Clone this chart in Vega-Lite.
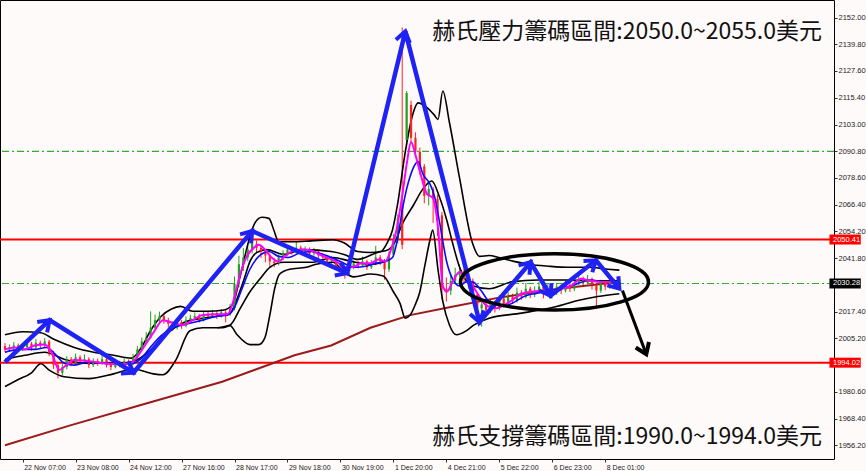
{
  "$schema": "https://vega.github.io/schema/vega-lite/v6.json",
  "width": 834,
  "height": 459,
  "autosize": {"type": "none"},
  "padding": {"left": 0, "top": 0, "right": 32, "bottom": 12},
  "background": "#fffafa",
  "config": {
    "view": {"stroke": "#000000", "strokeWidth": 1, "fill": "#fffafa"},
    "axis": {"title": null, "grid": false, "labelOverlap": false, "labelBound": false, "labelFlush": false},
    "axisY": {"labelOverlap": false, "labelSeparation": 0}
  },
  "datasets": {
    "candles": [
      {"t":0,"o":2001.5,"h":2003.0,"l":1998.8,"c":2000.1},{"t":1,"o":2000.1,"h":2002.4,"l":1999.0,"c":2001.0},{"t":2,"o":2001.0,"h":2003.5,"l":2000.2,"c":2001.9},{"t":3,"o":2001.9,"h":2002.8,"l":1998.9,"c":2000.1},{"t":4,"o":2000.1,"h":2002.2,"l":1999.3,"c":2001.0},
      {"t":5,"o":2001.0,"h":2004.6,"l":2000.4,"c":2002.8},{"t":6,"o":2002.8,"h":2003.6,"l":1999.6,"c":2001.0},{"t":7,"o":2001.0,"h":2004.9,"l":2000.3,"c":2003.2},{"t":8,"o":2003.2,"h":2004.1,"l":2000.5,"c":2001.9},{"t":9,"o":2001.9,"h":2005.3,"l":2001.0,"c":2003.7},
      {"t":10,"o":2003.7,"h":2004.5,"l":1997.0,"c":1998.3},{"t":11,"o":1998.3,"h":1999.4,"l":1991.2,"c":1992.9},{"t":12,"o":1992.9,"h":1994.0,"l":1986.8,"c":1989.4},{"t":13,"o":1989.4,"h":1993.5,"l":1988.2,"c":1992.0},{"t":14,"o":1992.0,"h":1997.0,"l":1991.0,"c":1995.6},
      {"t":15,"o":1995.6,"h":1996.6,"l":1992.4,"c":1993.8},{"t":16,"o":1993.8,"h":1998.2,"l":1993.0,"c":1996.5},{"t":17,"o":1996.5,"h":1997.4,"l":1993.6,"c":1994.7},{"t":18,"o":1994.7,"h":1997.8,"l":1994.0,"c":1995.6},{"t":19,"o":1995.6,"h":1996.5,"l":1991.5,"c":1992.9},
      {"t":20,"o":1992.9,"h":1996.0,"l":1992.0,"c":1994.7},{"t":21,"o":1994.7,"h":1995.9,"l":1992.6,"c":1993.8},{"t":22,"o":1993.8,"h":1997.5,"l":1993.0,"c":1995.6},{"t":23,"o":1995.6,"h":1996.4,"l":1991.8,"c":1992.9},{"t":24,"o":1992.9,"h":1993.9,"l":1990.6,"c":1992.0},
      {"t":25,"o":1992.0,"h":1995.2,"l":1991.4,"c":1993.8},{"t":26,"o":1993.8,"h":1994.9,"l":1991.9,"c":1992.9},{"t":27,"o":1992.9,"h":1996.0,"l":1992.2,"c":1994.7},{"t":28,"o":1994.7,"h":1995.5,"l":1992.3,"c":1993.4},{"t":29,"o":1993.4,"h":1998.0,"l":1992.8,"c":1996.5},
      {"t":30,"o":1996.5,"h":2001.6,"l":1995.8,"c":2000.1},{"t":31,"o":2000.1,"h":2005.5,"l":1999.4,"c":2003.7},{"t":32,"o":2003.7,"h":2008.0,"l":2002.6,"c":2005.5},{"t":33,"o":2005.5,"h":2017.5,"l":2004.8,"c":2010.0},{"t":34,"o":2010.0,"h":2016.0,"l":2009.0,"c":2013.5},
      {"t":35,"o":2013.5,"h":2017.4,"l":2012.0,"c":2015.3},{"t":36,"o":2015.3,"h":2016.2,"l":2011.8,"c":2013.5},{"t":37,"o":2013.5,"h":2014.6,"l":2010.2,"c":2011.8},{"t":38,"o":2011.8,"h":2012.9,"l":2008.6,"c":2010.0},{"t":39,"o":2010.0,"h":2014.0,"l":2009.2,"c":2012.6},
      {"t":40,"o":2012.6,"h":2013.5,"l":2009.5,"c":2010.9},{"t":41,"o":2010.9,"h":2015.2,"l":2010.2,"c":2013.5},{"t":42,"o":2013.5,"h":2016.0,"l":2012.5,"c":2014.4},{"t":43,"o":2014.4,"h":2017.0,"l":2013.6,"c":2015.3},{"t":44,"o":2015.3,"h":2016.4,"l":2012.4,"c":2013.5},
      {"t":45,"o":2013.5,"h":2017.6,"l":2012.9,"c":2016.2},{"t":46,"o":2016.2,"h":2017.4,"l":2014.2,"c":2015.3},{"t":47,"o":2015.3,"h":2018.2,"l":2014.5,"c":2016.7},{"t":48,"o":2016.7,"h":2017.6,"l":2014.0,"c":2015.3},{"t":49,"o":2015.3,"h":2018.6,"l":2014.6,"c":2017.1},
      {"t":50,"o":2017.1,"h":2018.0,"l":2012.5,"c":2016.2},{"t":51,"o":2016.2,"h":2021.0,"l":2015.5,"c":2018.9},{"t":52,"o":2018.9,"h":2033.5,"l":2018.0,"c":2030.1},{"t":53,"o":2030.1,"h":2043.0,"l":2028.5,"c":2039.1},{"t":54,"o":2039.1,"h":2046.5,"l":2036.0,"c":2042.2},
      {"t":55,"o":2042.2,"h":2048.5,"l":2040.5,"c":2045.8},{"t":56,"o":2045.8,"h":2051.0,"l":2044.0,"c":2048.5},{"t":57,"o":2048.5,"h":2050.0,"l":2044.5,"c":2046.7},{"t":58,"o":2046.7,"h":2047.8,"l":2042.0,"c":2044.9},{"t":59,"o":2044.9,"h":2046.0,"l":2040.0,"c":2043.1},
      {"t":60,"o":2043.1,"h":2044.0,"l":2037.5,"c":2040.4},{"t":61,"o":2040.4,"h":2042.0,"l":2037.8,"c":2039.5},{"t":62,"o":2039.5,"h":2043.6,"l":2038.6,"c":2042.2},{"t":63,"o":2042.2,"h":2045.5,"l":2041.0,"c":2044.0},{"t":64,"o":2044.0,"h":2047.4,"l":2043.0,"c":2045.8},
      {"t":65,"o":2045.8,"h":2047.0,"l":2043.5,"c":2044.9},{"t":66,"o":2044.9,"h":2049.5,"l":2044.0,"c":2046.7},{"t":67,"o":2046.7,"h":2047.6,"l":2043.6,"c":2044.9},{"t":68,"o":2044.9,"h":2047.2,"l":2043.8,"c":2045.8},{"t":69,"o":2045.8,"h":2046.8,"l":2042.6,"c":2044.0},
      {"t":70,"o":2044.0,"h":2046.6,"l":2043.0,"c":2044.9},{"t":71,"o":2044.9,"h":2045.8,"l":2041.6,"c":2043.1},{"t":72,"o":2043.1,"h":2044.2,"l":2040.8,"c":2042.2},{"t":73,"o":2042.2,"h":2043.0,"l":2039.0,"c":2040.4},{"t":74,"o":2040.4,"h":2042.8,"l":2039.4,"c":2041.3},
      {"t":75,"o":2041.3,"h":2042.0,"l":2037.0,"c":2038.6},{"t":76,"o":2038.6,"h":2039.6,"l":2035.2,"c":2036.8},{"t":77,"o":2036.8,"h":2038.0,"l":2032.5,"c":2035.9},{"t":78,"o":2035.9,"h":2039.0,"l":2034.8,"c":2037.7},{"t":79,"o":2037.7,"h":2040.8,"l":2036.8,"c":2039.5},
      {"t":80,"o":2039.5,"h":2040.6,"l":2037.2,"c":2038.6},{"t":81,"o":2038.6,"h":2042.6,"l":2037.9,"c":2040.4},{"t":82,"o":2040.4,"h":2041.2,"l":2036.5,"c":2037.7},{"t":83,"o":2037.7,"h":2041.0,"l":2036.9,"c":2039.5},{"t":84,"o":2039.5,"h":2047.5,"l":2038.6,"c":2042.2},
      {"t":85,"o":2042.2,"h":2043.3,"l":2038.8,"c":2040.4},{"t":86,"o":2040.4,"h":2041.5,"l":2032.0,"c":2036.8},{"t":87,"o":2036.8,"h":2045.0,"l":2035.6,"c":2043.6},{"t":88,"o":2043.6,"h":2053.0,"l":2042.5,"c":2050.3},{"t":89,"o":2050.3,"h":2062.0,"l":2048.6,"c":2060.1},
      {"t":90,"o":2065.9,"h":2147.5,"l":2046.0,"c":2048.0},{"t":91,"o":2096.0,"h":2118.4,"l":2093.0,"c":2117.5},{"t":92,"o":2112.0,"h":2114.0,"l":2094.0,"c":2097.0},{"t":93,"o":2097.0,"h":2099.5,"l":2088.0,"c":2090.6},{"t":94,"o":2090.6,"h":2092.5,"l":2080.0,"c":2083.9},
      {"t":95,"o":2083.9,"h":2085.0,"l":2067.0,"c":2070.4},{"t":96,"o":2070.4,"h":2076.0,"l":2066.0,"c":2073.6},{"t":97,"o":2073.6,"h":2074.5,"l":2058.0,"c":2069.1},{"t":98,"o":2069.1,"h":2071.0,"l":2052.0,"c":2061.5},{"t":99,"o":2061.5,"h":2063.0,"l":2023.0,"c":2027.9},
      {"t":100,"o":2027.9,"h":2033.0,"l":2022.0,"c":2027.0},{"t":101,"o":2027.0,"h":2034.5,"l":2025.0,"c":2031.5},{"t":102,"o":2031.5,"h":2037.5,"l":2030.0,"c":2034.2},{"t":103,"o":2034.2,"h":2039.0,"l":2033.0,"c":2035.9},{"t":104,"o":2035.9,"h":2037.0,"l":2030.5,"c":2032.4},
      {"t":105,"o":2032.4,"h":2034.0,"l":2028.0,"c":2031.5},{"t":106,"o":2031.5,"h":2032.6,"l":2022.5,"c":2025.2},{"t":107,"o":2025.2,"h":2026.0,"l":2016.5,"c":2018.9},{"t":108,"o":2018.9,"h":2022.5,"l":2010.5,"c":2020.7},{"t":109,"o":2020.7,"h":2022.0,"l":2015.0,"c":2018.0},
      {"t":110,"o":2018.0,"h":2023.0,"l":2016.8,"c":2021.2},{"t":111,"o":2021.2,"h":2022.4,"l":2017.0,"c":2018.9},{"t":112,"o":2018.9,"h":2025.0,"l":2018.0,"c":2023.4},{"t":113,"o":2023.4,"h":2024.6,"l":2019.2,"c":2020.7},{"t":114,"o":2020.7,"h":2026.4,"l":2019.8,"c":2024.3},
      {"t":115,"o":2024.3,"h":2025.6,"l":2021.0,"c":2022.5},{"t":116,"o":2022.5,"h":2028.4,"l":2021.6,"c":2026.1},{"t":117,"o":2026.1,"h":2027.2,"l":2022.8,"c":2024.3},{"t":118,"o":2024.3,"h":2030.5,"l":2023.5,"c":2027.9},{"t":119,"o":2027.9,"h":2028.8,"l":2023.6,"c":2025.2},
      {"t":120,"o":2025.2,"h":2029.0,"l":2024.0,"c":2027.0},{"t":121,"o":2027.0,"h":2031.0,"l":2026.0,"c":2028.8},{"t":122,"o":2028.8,"h":2029.6,"l":2023.5,"c":2025.2},{"t":123,"o":2025.2,"h":2030.0,"l":2024.4,"c":2027.9},{"t":124,"o":2027.9,"h":2029.0,"l":2024.5,"c":2026.1},
      {"t":125,"o":2026.1,"h":2030.6,"l":2025.0,"c":2028.8},{"t":126,"o":2028.8,"h":2029.8,"l":2025.4,"c":2027.0},{"t":127,"o":2027.0,"h":2031.6,"l":2026.2,"c":2029.7},{"t":128,"o":2029.7,"h":2030.6,"l":2026.4,"c":2027.9},{"t":129,"o":2027.9,"h":2032.6,"l":2026.8,"c":2030.6},
      {"t":130,"o":2030.6,"h":2034.5,"l":2029.6,"c":2032.4},{"t":131,"o":2032.4,"h":2033.4,"l":2029.0,"c":2030.6},{"t":132,"o":2030.6,"h":2034.2,"l":2029.8,"c":2032.4},{"t":133,"o":2032.4,"h":2033.0,"l":2027.5,"c":2029.7},{"t":134,"o":2029.7,"h":2030.5,"l":2019.8,"c":2027.0},
      {"t":135,"o":2027.0,"h":2032.0,"l":2026.0,"c":2030.6},{"t":136,"o":2030.6,"h":2031.6,"l":2027.2,"c":2028.8},{"t":137,"o":2028.8,"h":2033.0,"l":2027.9,"c":2031.5},{"t":138,"o":2031.5,"h":2032.4,"l":2028.4,"c":2029.7},{"t":139,"o":2029.7,"h":2031.8,"l":2029.0,"c":2030.6}
    ],
    "lines": [
      {"s":"ma200","t":0,"p":1956.2},{"s":"ma200","t":14.6,"p":1965.2},{"s":"ma200","t":29.8,"p":1974.1},{"s":"ma200","t":49.2,"p":1985.3},{"s":"ma200","t":65.6,"p":1997.4},{"s":"ma200","t":73.9,"p":2001.9},{"s":"ma200","t":82.8,"p":2010.0},{"s":"ma200","t":91.8,"p":2015.8},{"s":"ma200","t":100.7,"p":2019.4},{"s":"ma200","t":111.9,"p":2023.8},{"s":"ma200","t":125.4,"p":2027.9},{"s":"ma200","t":139.2,"p":2031.0},

      {"s":"mag","t":0,"p":2000.1},{"s":"mag","t":2.2,"p":2001.0},{"s":"mag","t":4.5,"p":2000.1},{"s":"mag","t":6.7,"p":2001.9},{"s":"mag","t":9.0,"p":2002.3},{"s":"mag","t":10.5,"p":1998.8},{"s":"mag","t":12.3,"p":1990.7},{"s":"mag","t":13.9,"p":1992.9},{"s":"mag","t":15.7,"p":1995.2},{"s":"mag","t":19.0,"p":1994.7},{"s":"mag","t":22.4,"p":1993.8},{"s":"mag","t":25.7,"p":1993.4},{"s":"mag","t":28.4,"p":1993.8},{"s":"mag","t":30.2,"p":1997.4},{"s":"mag","t":31.8,"p":2002.3},{"s":"mag","t":33.6,"p":2007.7},{"s":"mag","t":35.8,"p":2013.5},{"s":"mag","t":38.1,"p":2012.2},{"s":"mag","t":40.3,"p":2011.3},{"s":"mag","t":42.5,"p":2013.5},{"s":"mag","t":44.8,"p":2015.8},{"s":"mag","t":48.1,"p":2016.2},{"s":"mag","t":50.4,"p":2016.2},{"s":"mag","t":51.9,"p":2023.4},{"s":"mag","t":53.3,"p":2034.6},{"s":"mag","t":54.8,"p":2042.7},{"s":"mag","t":56.4,"p":2046.7},{"s":"mag","t":57.5,"p":2048.0},{"s":"mag","t":58.9,"p":2045.8},{"s":"mag","t":60.4,"p":2042.2},{"s":"mag","t":62.0,"p":2040.4},{"s":"mag","t":63.4,"p":2042.7},{"s":"mag","t":64.9,"p":2044.9},{"s":"mag","t":67.2,"p":2045.8},{"s":"mag","t":69.4,"p":2045.4},{"s":"mag","t":71.2,"p":2043.6},{"s":"mag","t":72.8,"p":2042.2},{"s":"mag","t":75.0,"p":2040.4},{"s":"mag","t":77.2,"p":2037.7},{"s":"mag","t":78.8,"p":2037.7},{"s":"mag","t":80.6,"p":2039.5},{"s":"mag","t":82.8,"p":2039.5},{"s":"mag","t":84.6,"p":2041.3},{"s":"mag","t":86.2,"p":2040.4},{"s":"mag","t":87.3,"p":2044.9},{"s":"mag","t":88.7,"p":2054.8},{"s":"mag","t":90.0,"p":2070.4},{"s":"mag","t":91.1,"p":2086.1},{"s":"mag","t":92.0,"p":2095.1},{"s":"mag","t":93.1,"p":2088.4},{"s":"mag","t":94.0,"p":2081.6},{"s":"mag","t":95.6,"p":2071.3},{"s":"mag","t":96.9,"p":2069.5},{"s":"mag","t":98.1,"p":2056.1},{"s":"mag","t":99.2,"p":2029.2},{"s":"mag","t":100.1,"p":2026.5},{"s":"mag","t":101.4,"p":2031.0},{"s":"mag","t":103.0,"p":2035.5},{"s":"mag","t":104.5,"p":2033.7},{"s":"mag","t":106.8,"p":2026.5},{"s":"mag","t":109.0,"p":2020.3},{"s":"mag","t":111.3,"p":2018.9},{"s":"mag","t":112.6,"p":2019.8},{"s":"mag","t":114.8,"p":2022.5},{"s":"mag","t":117.1,"p":2025.6},{"s":"mag","t":119.3,"p":2026.5},{"s":"mag","t":121.6,"p":2027.0},{"s":"mag","t":123.8,"p":2026.5},{"s":"mag","t":126.0,"p":2027.9},{"s":"mag","t":128.3,"p":2029.2},{"s":"mag","t":130.5,"p":2032.4},{"s":"mag","t":132.8,"p":2031.5},{"s":"mag","t":135.0,"p":2031.0},{"s":"mag","t":137.2,"p":2031.0},{"s":"mag","t":139.2,"p":2031.0},

      {"s":"blu","t":0,"p":1998.8},{"s":"blu","t":3.4,"p":2000.1},{"s":"blu","t":6.7,"p":2000.1},{"s":"blu","t":9.4,"p":2001.0},{"s":"blu","t":11.2,"p":1998.3},{"s":"blu","t":13.4,"p":1993.8},{"s":"blu","t":15.7,"p":1992.9},{"s":"blu","t":19.0,"p":1994.3},{"s":"blu","t":22.4,"p":1993.8},{"s":"blu","t":25.7,"p":1993.4},{"s":"blu","t":28.4,"p":1993.4},{"s":"blu","t":30.7,"p":1995.6},{"s":"blu","t":32.9,"p":2001.0},{"s":"blu","t":35.4,"p":2006.4},{"s":"blu","t":38.1,"p":2010.0},{"s":"blu","t":41.4,"p":2011.8},{"s":"blu","t":44.8,"p":2013.5},{"s":"blu","t":48.1,"p":2015.3},{"s":"blu","t":50.4,"p":2015.8},{"s":"blu","t":51.9,"p":2018.9},{"s":"blu","t":53.7,"p":2027.9},{"s":"blu","t":55.5,"p":2036.8},{"s":"blu","t":57.5,"p":2042.7},{"s":"blu","t":59.8,"p":2044.9},{"s":"blu","t":62.0,"p":2042.7},{"s":"blu","t":64.2,"p":2042.2},{"s":"blu","t":66.5,"p":2044.0},{"s":"blu","t":69.4,"p":2044.9},{"s":"blu","t":72.1,"p":2043.6},{"s":"blu","t":75.0,"p":2041.3},{"s":"blu","t":77.2,"p":2039.1},{"s":"blu","t":79.5,"p":2037.7},{"s":"blu","t":81.7,"p":2038.2},{"s":"blu","t":83.9,"p":2039.5},{"s":"blu","t":86.2,"p":2040.4},{"s":"blu","t":87.8,"p":2042.2},{"s":"blu","t":88.9,"p":2050.3},{"s":"blu","t":90.2,"p":2066.0},{"s":"blu","t":91.8,"p":2079.4},{"s":"blu","t":93.6,"p":2086.1},{"s":"blu","t":94.7,"p":2080.3},{"s":"blu","t":96.3,"p":2075.8},{"s":"blu","t":97.4,"p":2069.5},{"s":"blu","t":98.5,"p":2057.9},{"s":"blu","t":100.1,"p":2040.0},{"s":"blu","t":101.4,"p":2032.4},{"s":"blu","t":103.0,"p":2029.2},{"s":"blu","t":104.5,"p":2031.0},{"s":"blu","t":105.9,"p":2031.0},{"s":"blu","t":107.9,"p":2027.0},{"s":"blu","t":109.7,"p":2022.1},{"s":"blu","t":113.5,"p":2020.3},{"s":"blu","t":118.0,"p":2024.7},{"s":"blu","t":122.5,"p":2026.5},{"s":"blu","t":128.3,"p":2029.2},{"s":"blu","t":132.8,"p":2031.9},{"s":"blu","t":135.9,"p":2031.0},{"s":"blu","t":139.2,"p":2031.0},

      {"s":"U","t":0,"p":2006.8},{"s":"U","t":4.0,"p":2008.2},{"s":"U","t":8.1,"p":2007.7},{"s":"U","t":11.2,"p":2004.6},{"s":"U","t":15.7,"p":2001.0},{"s":"U","t":20.1,"p":1998.8},{"s":"U","t":24.6,"p":1997.4},{"s":"U","t":28.7,"p":1996.1},{"s":"U","t":30.9,"p":2001.0},{"s":"U","t":33.1,"p":2009.1},{"s":"U","t":35.4,"p":2015.3},{"s":"U","t":37.6,"p":2018.5},{"s":"U","t":39.8,"p":2019.8},{"s":"U","t":42.5,"p":2017.6},{"s":"U","t":45.9,"p":2017.6},{"s":"U","t":49.3,"p":2018.0},{"s":"U","t":51.5,"p":2020.3},{"s":"U","t":53.3,"p":2033.7},{"s":"U","t":55.3,"p":2050.3},{"s":"U","t":56.6,"p":2057.9},{"s":"U","t":58.2,"p":2060.6},{"s":"U","t":59.8,"p":2060.1},{"s":"U","t":60.9,"p":2054.8},{"s":"U","t":62.0,"p":2049.4},{"s":"U","t":64.9,"p":2049.4},{"s":"U","t":69.4,"p":2049.8},{"s":"U","t":74.3,"p":2050.3},{"s":"U","t":76.8,"p":2048.9},{"s":"U","t":79.9,"p":2044.9},{"s":"U","t":82.8,"p":2044.5},{"s":"U","t":85.1,"p":2044.9},{"s":"U","t":86.6,"p":2048.9},{"s":"U","t":87.8,"p":2054.8},{"s":"U","t":88.9,"p":2066.0},{"s":"U","t":90.7,"p":2090.6},{"s":"U","t":92.2,"p":2106.3},{"s":"U","t":93.6,"p":2113.0},{"s":"U","t":95.4,"p":2111.2},{"s":"U","t":97.2,"p":2107.6},{"s":"U","t":98.1,"p":2105.4},{"s":"U","t":99.2,"p":2118.4},{"s":"U","t":100.7,"p":2104.0},{"s":"U","t":103.0,"p":2078.5},{"s":"U","t":105.9,"p":2048.9},{"s":"U","t":107.5,"p":2042.7},{"s":"U","t":109.7,"p":2043.1},{"s":"U","t":111.9,"p":2042.2},{"s":"U","t":115.3,"p":2040.4},{"s":"U","t":118.6,"p":2039.1},{"s":"U","t":123.1,"p":2038.2},{"s":"U","t":127.6,"p":2037.7},{"s":"U","t":132.1,"p":2037.7},{"s":"U","t":136.6,"p":2036.8},{"s":"U","t":139.2,"p":2036.4},

      {"s":"L","t":0,"p":1983.1},{"s":"L","t":2.9,"p":1986.2},{"s":"L","t":6.0,"p":1989.4},{"s":"L","t":8.1,"p":1993.5},{"s":"L","t":10.1,"p":1990.5},{"s":"L","t":13.4,"p":1987.6},{"s":"L","t":19.0,"p":1986.7},{"s":"L","t":24.6,"p":1988.9},{"s":"L","t":29.1,"p":1991.1},{"s":"L","t":33.6,"p":1988.9},{"s":"L","t":35.8,"p":1988.5},{"s":"L","t":38.7,"p":1995.2},{"s":"L","t":41.9,"p":2008.6},{"s":"L","t":44.8,"p":2010.0},{"s":"L","t":49.3,"p":2010.0},{"s":"L","t":51.0,"p":2010.9},{"s":"L","t":52.6,"p":2006.8},{"s":"L","t":55.5,"p":2002.3},{"s":"L","t":57.5,"p":2002.3},{"s":"L","t":58.9,"p":2005.5},{"s":"L","t":60.0,"p":2015.8},{"s":"L","t":61.1,"p":2027.9},{"s":"L","t":62.2,"p":2034.6},{"s":"L","t":64.5,"p":2036.8},{"s":"L","t":68.3,"p":2037.7},{"s":"L","t":70.5,"p":2039.1},{"s":"L","t":74.3,"p":2040.0},{"s":"L","t":76.8,"p":2035.5},{"s":"L","t":79.0,"p":2033.3},{"s":"L","t":82.8,"p":2034.6},{"s":"L","t":85.7,"p":2033.7},{"s":"L","t":88.0,"p":2026.5},{"s":"L","t":89.5,"p":2021.2},{"s":"L","t":90.7,"p":2014.4},{"s":"L","t":91.8,"p":2015.8},{"s":"L","t":92.9,"p":2020.3},{"s":"L","t":94.0,"p":2026.5},{"s":"L","t":95.1,"p":2038.2},{"s":"L","t":96.3,"p":2050.3},{"s":"L","t":96.9,"p":2054.8},{"s":"L","t":98.1,"p":2036.8},{"s":"L","t":99.2,"p":2022.1},{"s":"L","t":100.7,"p":2011.3},{"s":"L","t":102.3,"p":2006.8},{"s":"L","t":104.5,"p":2008.6},{"s":"L","t":106.3,"p":2011.3},{"s":"L","t":109.7,"p":2014.4},{"s":"L","t":117.1,"p":2016.7},{"s":"L","t":124.7,"p":2019.6},{"s":"L","t":129.8,"p":2022.5},{"s":"L","t":134.3,"p":2024.3},{"s":"L","t":139.2,"p":2025.6},

      {"s":"M","t":0,"p":1995.6},{"s":"M","t":4.5,"p":1997.4},{"s":"M","t":9.0,"p":1998.8},{"s":"M","t":13.4,"p":1995.6},{"s":"M","t":17.9,"p":1993.8},{"s":"M","t":22.4,"p":1993.8},{"s":"M","t":26.9,"p":1993.8},{"s":"M","t":30.2,"p":1995.6},{"s":"M","t":33.6,"p":2001.0},{"s":"M","t":36.9,"p":2007.7},{"s":"M","t":40.3,"p":2012.2},{"s":"M","t":44.8,"p":2014.4},{"s":"M","t":48.1,"p":2015.3},{"s":"M","t":51.0,"p":2016.7},{"s":"M","t":52.6,"p":2023.4},{"s":"M","t":54.2,"p":2032.4},{"s":"M","t":55.5,"p":2040.4},{"s":"M","t":57.1,"p":2044.5},{"s":"M","t":59.3,"p":2045.8},{"s":"M","t":63.1,"p":2043.6},{"s":"M","t":67.6,"p":2045.8},{"s":"M","t":73.9,"p":2044.9},{"s":"M","t":76.8,"p":2043.6},{"s":"M","t":79.9,"p":2041.3},{"s":"M","t":84.4,"p":2044.5},{"s":"M","t":86.9,"p":2045.8},{"s":"M","t":88.0,"p":2048.0},{"s":"M","t":90.2,"p":2058.3},{"s":"M","t":92.5,"p":2066.0},{"s":"M","t":94.7,"p":2073.6},{"s":"M","t":96.7,"p":2077.2},{"s":"M","t":98.5,"p":2069.5},{"s":"M","t":100.1,"p":2059.2},{"s":"M","t":101.4,"p":2048.9},{"s":"M","t":103.0,"p":2037.7},{"s":"M","t":105.9,"p":2029.2},{"s":"M","t":109.7,"p":2027.9},{"s":"M","t":114.8,"p":2031.0},{"s":"M","t":120.9,"p":2031.9},{"s":"M","t":127.6,"p":2031.9},{"s":"M","t":134.3,"p":2031.5},{"s":"M","t":139.2,"p":2031.5},

      {"s":"S","t":48.1,"p":2010.0},{"s":"S","t":51.0,"p":2011.3},{"s":"S","t":53.3,"p":2018.9},{"s":"S","t":55.5,"p":2026.5},{"s":"S","t":57.8,"p":2032.4},{"s":"S","t":60.0,"p":2037.7},{"s":"S","t":63.1,"p":2040.0},{"s":"S","t":69.8,"p":2040.0},{"s":"S","t":74.3,"p":2042.2},{"s":"S","t":78.4,"p":2040.4},{"s":"S","t":82.8,"p":2039.1},{"s":"S","t":86.2,"p":2040.4}
    ],
    "zig": [
      {"t":0,"p":1994.3},{"t":10.1,"p":2013.5},{"t":29.1,"p":1989.4},{"t":56.0,"p":2054.3},{"t":77.5,"p":2035.0},{"t":90.7,"p":2145.7},{"t":107.5,"p":2012.6},{"t":119.1,"p":2040.0},{"t":123.6,"p":2024.7},{"t":133.9,"p":2040.9},{"t":139.2,"p":2027.9}
    ],
    "heads": [
      {"g":"blue","t":10.1,"p":2013.5,"a":-43.7},{"g":"blue","t":29.1,"p":1989.4,"a":32.0},{"g":"blue","t":56.0,"p":2054.3,"a":-50.2},{"g":"blue","t":77.5,"p":2035.0,"a":24.4},{"g":"blue","t":90.7,"p":2145.7,"a":-76.3},{"g":"blue","t":107.5,"p":2012.6,"a":75.8},{"g":"blue","t":119.1,"p":2040.0,"a":-49.6},{"g":"blue","t":123.6,"p":2024.7,"a":59.5},{"g":"blue","t":133.9,"p":2040.9,"a":-38.0},{"g":"blue","t":139.2,"p":2027.9,"a":50.4},{"g":"black","t":145.3,"p":1997.9,"a":67.3}
    ]
  },
  "layer": [
    {
      "data": {"name": "candles"},
      "mark": {"type": "rule", "strokeWidth": 1},
      "encoding": {
        "x": {"field": "t", "type": "quantitative", "title": null, "scale": {"domain": [0, 186.7], "nice": false, "zero": false},
          "axis": {"orient": "bottom", "values": [4, 16, 28, 40, 52, 64, 76, 88, 100, 112, 124, 136],
            "labelExpr": "['22 Nov 07:00','23 Nov 08:00','24 Nov 12:00','27 Nov 16:00','28 Nov 17:00','29 Nov 18:00','30 Nov 19:00','1 Dec 20:00','4 Dec 21:00','5 Dec 22:00','6 Dec 23:00','8 Dec 01:00'][round((datum.value - 4) / 12)]",
            "grid": false, "domain": false, "ticks": true, "tickSize": 3, "tickColor": "#333333", "labels": true, "labelAlign": "left", "labelBaseline": "top", "labelPadding": 1, "labelOffset": 1, "labelFont": "Liberation Sans", "labelFontSize": 7, "labelColor": "#222222", "labelFlush": false, "labelOverlap": false}},
        "y": {"field": "l", "type": "quantitative", "title": null, "scale": {"domain": [1952.2, 2157.8], "nice": false, "zero": false},
          "axis": {"orient": "right", "values": [2152, 2139.8, 2127.6, 2115.4, 2103, 2090.8, 2078.6, 2066.4, 2054.2, 2041.8, 2017.4, 2005.2, 1980.6, 1968.4, 1956.2],
            "format": ".2f", "grid": false, "domain": false, "ticks": true, "tickSize": 3, "tickColor": "#333333", "labels": true, "labelPadding": 1, "labelFont": "Liberation Sans", "labelFontSize": 7.5, "labelColor": "#222222", "labelFlush": false, "labelOverlap": false, "labelSeparation": 0, "tickCount": 20}},
        "y2": {"field": "h"},
        "color": {"condition": {"test": "datum.c >= datum.o", "value": "#1fa01f"}, "value": "#ff2020"}
      }
    },
    {
      "data": {"values": [{"v": 2090.8}, {"v": 2030.28}]},
      "mark": {"type": "rule", "color": "#33aa33", "stroke": "#33aa33", "strokeWidth": 1.2, "strokeDash": [7, 3, 2, 3]},
      "encoding": {
        "y": {"field": "v", "type": "quantitative", "title": null}
      }
    },
    {
      "data": {"values": [{"v": 2050.41}, {"v": 1994.02}]},
      "mark": {"type": "rule", "color": "#ff0000", "stroke": "#ff0000", "strokeWidth": 2},
      "encoding": {
        "y": {"field": "v", "type": "quantitative", "title": null}
      }
    },
    {
      "data": {"name": "lines"},
      "transform": [{"filter": "datum.s == 'ma200'"}],
      "mark": {"type": "line", "color": "#9b1b1b", "strokeWidth": 2},
      "encoding": {
        "x": {"field": "t", "type": "quantitative", "title": null},
        "y": {"field": "p", "type": "quantitative", "title": null}
      }
    },
    {
      "data": {"name": "lines"},
      "transform": [{"filter": "indexof(['U','L','M','S'], datum.s) >= 0"}],
      "mark": {"type": "line", "color": "#000000", "strokeWidth": 1.6, "interpolate": "monotone"},
      "encoding": {
        "x": {"field": "t", "type": "quantitative", "title": null},
        "y": {"field": "p", "type": "quantitative", "title": null},
        "detail": {"field": "s"}
      }
    },
    {
      "data": {"name": "candles"},
      "mark": {"type": "bar", "size": 2.2},
      "encoding": {
        "x": {"field": "t", "type": "quantitative", "title": null},
        "y": {"field": "o", "type": "quantitative", "title": null},
        "y2": {"field": "c"},
        "color": {"condition": {"test": "datum.c >= datum.o", "value": "#1fa01f"}, "value": "#ff2020"}
      }
    },
    {
      "data": {"name": "lines"},
      "transform": [{"filter": "datum.s == 'blu'"}],
      "mark": {"type": "line", "color": "#0a0aff", "strokeWidth": 1.6, "interpolate": "monotone"},
      "encoding": {
        "x": {"field": "t", "type": "quantitative", "title": null},
        "y": {"field": "p", "type": "quantitative", "title": null}
      }
    },
    {
      "data": {"name": "lines"},
      "transform": [{"filter": "datum.s == 'mag'"}],
      "mark": {"type": "line", "color": "#ff00ff", "strokeWidth": 2, "interpolate": "monotone"},
      "encoding": {
        "x": {"field": "t", "type": "quantitative", "title": null},
        "y": {"field": "p", "type": "quantitative", "title": null}
      }
    },
    {
      "data": {"name": "zig"},
      "mark": {"type": "line", "color": "#1e22f5", "strokeWidth": 4.5, "strokeJoin": "miter"},
      "encoding": {
        "x": {"field": "t", "type": "quantitative", "title": null},
        "y": {"field": "p", "type": "quantitative", "title": null}
      }
    },
    {
      "data": {"values": [{"t": 139.9, "p": 2027.0}, {"t": 145.3, "p": 1997.9}]},
      "mark": {"type": "line", "color": "#000000", "strokeWidth": 3},
      "encoding": {
        "x": {"field": "t", "type": "quantitative", "title": null},
        "y": {"field": "p", "type": "quantitative", "title": null}
      }
    },
    {
      "data": {"values": [{"t": 124.5, "p": 2031.0}]},
      "mark": {"type": "point", "shape": "M-1,0C-1,-0.1657,-0.5523,-0.3,0,-0.3C0.5523,-0.3,1,-0.1657,1,0C1,0.1657,0.5523,0.3,0,0.3C-0.5523,0.3,-1,0.1657,-1,0Z", "size": 35344, "filled": false, "stroke": "#000000", "strokeWidth": 3.5, "opacity": 1},
      "encoding": {
        "x": {"field": "t", "type": "quantitative", "title": null},
        "y": {"field": "p", "type": "quantitative", "title": null}
      }
    },
    {
      "data": {"name": "heads"},
      "mark": {"type": "point", "shape": "M-1,-0.7L0,0L-1,0.7", "size": 420, "filled": false, "strokeWidth": 4, "strokeJoin": "miter", "opacity": 1},
      "encoding": {
        "x": {"field": "t", "type": "quantitative", "title": null},
        "y": {"field": "p", "type": "quantitative", "title": null},
        "angle": {"field": "a", "type": "quantitative", "scale": null},
        "stroke": {"condition": {"test": "datum.g == 'black'", "value": "#000000"}, "value": "#1e22f5"}
      }
    },
    {
      "data": {"values": [{"t": 185.1, "p": 2145.3, "txt": "赫氏壓力籌碼區間:2050.0~2055.0美元"}, {"t": 185.1, "p": 1959.8, "txt": "赫氏支撐籌碼區間:1990.0~1994.0美元"}]},
      "mark": {"type": "text", "align": "right", "baseline": "middle", "font": "Noto Sans CJK TC", "fontSize": 23, "color": "#111111"},
      "encoding": {
        "x": {"field": "t", "type": "quantitative", "title": null},
        "y": {"field": "p", "type": "quantitative", "title": null},
        "text": {"field": "txt"}
      }
    },
    {
      "data": {"values": [{"v": 2050.41, "k": "res"}, {"v": 2030.28, "k": "cur"}, {"v": 1994.02, "k": "sup"}]},
      "mark": {"type": "bar", "size": 10, "clip": false},
      "encoding": {
        "x": {"datum": 186.8, "type": "quantitative", "title": null},
        "x2": {"datum": 193.9},
        "y": {"field": "v", "type": "quantitative", "title": null},
        "fill": {"condition": {"test": "datum.k == 'cur'", "value": "#000000"}, "value": "#ff0000"}
      }
    },
    {
      "data": {"values": [{"v": 2050.41}, {"v": 2030.28}, {"v": 1994.02}]},
      "mark": {"type": "text", "align": "left", "baseline": "middle", "font": "Liberation Sans", "fontSize": 7.5, "color": "#ffffff", "clip": false},
      "encoding": {
        "x": {"datum": 187.6, "type": "quantitative", "title": null},
        "y": {"field": "v", "type": "quantitative", "title": null},
        "text": {"field": "v", "format": ".2f"}
      }
    }
  ]
}
